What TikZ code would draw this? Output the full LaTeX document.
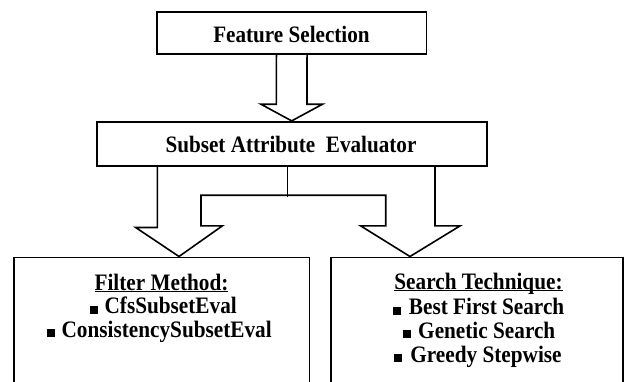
\documentclass[tikz,border=0pt]{standalone}
\usepackage{fontspec}
\setmainfont{Liberation Serif}
\newfontfamily\dfont[FakeStretch=0.9]{Liberation Serif}
\usetikzlibrary{calc}
\newcommand\myul[1]{\setbox0\hbox{#1}\rlap{\rule[-2.4pt]{\wd0}{1.4pt}}\box0}
\newcommand\sqb{\rule{8pt}{8pt}}
\begin{document}
\begin{tikzpicture}[x=1pt,y=-1pt,
  box/.style={draw,line width=1.6pt,inner sep=0pt},
  conn/.style={draw,line width=1.6pt,line join=miter},
  ttl/.style={font=\fontsize{23.5}{27}\dfont\bfseries,inner sep=0pt,anchor=base},
  itm/.style={font=\fontsize{23.6}{27}\dfont\bfseries,inner sep=0pt,anchor=base}]
\useasboundingbox (0,0) rectangle (627,381);
\clip (0,0) rectangle (627,381);
% boxes
\node[box,minimum width=269.5,minimum height=41.7] (fs) at (291.75,32.85) {};
\node[box,minimum width=390,minimum height=44.3] (sae) at (291.7,143.85) {};
\node[box,minimum width=295.3,minimum height=160] (fm) at (161.65,337.3) {};
\node[box,minimum width=292.3,minimum height=160] (st) at (476.85,337.3) {};
% texts
\node[ttl] (fst) at (291.5,42) {Feature Selection};
\node[ttl] (saet) at (291,152) {Subset Attribute\ \ Evaluator};
\node[itm] (fm0) at (161.5,290) {\myul{Filter Method:}};
\node[itm] (fm1) at (163.2,313.5) {\sqb\hspace{7pt}CfsSubsetEval};
\node[itm] (fm2) at (159.2,337) {\sqb\hspace{7pt}ConsistencySubsetEval};
\node[itm] (st0) at (478.5,289) {\myul{Search\ Technique:}};
\node[itm] (st1) at (478.6,314.5) {\sqb\hspace{8pt}Best First Search};
\node[itm] (st2) at (479,338) {\sqb\hspace{7.5pt}Genetic Search};
\node[itm] (st3) at (478,362) {\sqb\hspace{8pt}Greedy Stepwise};
% tips
\coordinate (tipL) at ($(fm.north)+(17.35,0)$);
\coordinate (tipR) at ($(st.north)+(-66.85,0)$);
% top block arrow
\draw[conn] ($(fs.south)+(-15.3,0)$) -- ($(sae.north)+(-15.3,-16.7)$)
  -- ($(sae.north)+(-30.8,-16.7)$) -- (sae.north)
  -- ($(sae.north)+(30.8,-16.7)$) -- ($(sae.north)+(15.3,-16.7)$)
  -- ($(fs.south)+(15.3,0)$);
% split block arrows
\draw[conn] ($(sae.south)+(-134.4,0)$) -- ++(0,60.7) -- ++(-21.6,0) -- (tipL)
  -- ++(43.3,-30.6) -- ++(-21.3,0) -- ++(0,-30.7) -- ++(184.7,0) -- ++(0,30.7)
  -- ++(-25,0) -- (tipR) -- ++(50,-30.6) -- ++(-25,0) -- ($(sae.south)+(143.3,0)$);
\coordinate (mid) at ($(sae.south)+(-4.4,30)$);
\draw[conn] ($(sae.south)+(-4.4,0)$) -- (mid);
\end{tikzpicture}
\end{document}
